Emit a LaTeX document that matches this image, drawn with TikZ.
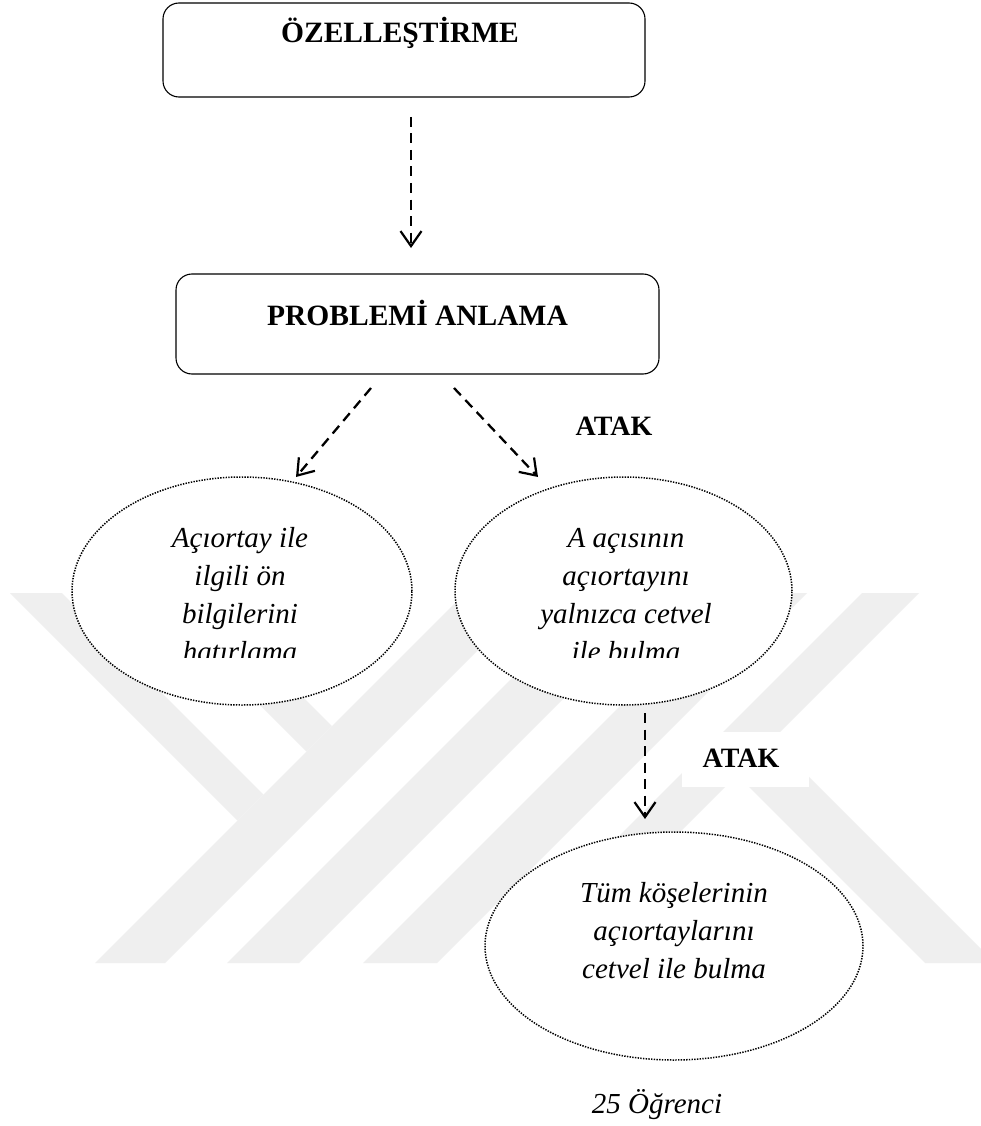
\documentclass[tikz,border=0pt]{standalone}
\usepackage{fontspec}
\setmainfont{Liberation Serif}
\usetikzlibrary{arrows.meta,shapes.geometric}
\definecolor{markgray}{RGB}{239,239,239}
\tikzset{
  headbox/.style={draw=black, line width=1.1pt, rounded corners=16pt, fill=white, inner sep=0pt},
  headtext/.style={anchor=base, inner sep=0pt, font=\fontsize{29.5}{34}\selectfont\bfseries},
  atak/.style={anchor=base, inner sep=0pt, font=\fontsize{28}{32}\selectfont\bfseries},
  bubble/.style={ellipse, draw=black, fill=white, inner sep=0pt, line width=1.5pt, dash pattern=on 1.4pt off 1.3pt},
  itext/.style={anchor=base, inner sep=0pt, font=\fontsize{29}{34}\selectfont\itshape},
  flow/.style={line width=2.3pt, dash pattern=on 10pt off 6.5pt, -{Straight Barb[length=15pt,width=21pt,line width=2.2pt]}},
  stripe/.style={fill=markgray, draw=none}
}
\begin{document}
\begin{tikzpicture}[x=1pt,y=-1pt]
\useasboundingbox (0,0) rectangle (981,1126);
\fill[white] (0,0) rectangle (981,1126);

% faint logo stripes in the background
\begin{scope}
\clip (0,0) rectangle (981,1126);
\fill[stripe] (10,593) -- (62,593) -- (263.5,794.5) -- (237.5,820.5) -- cycle;
\fill[stripe] (95,963) -- (165,963) -- (535,593) -- (465,593) -- cycle;
\fill[stripe] (148,593) -- (199,593) -- (332,726) -- (306.5,751.5) -- cycle;
\fill[stripe] (227,963) -- (299,963) -- (669,593) -- (597,593) -- cycle;
\fill[stripe] (363,963) -- (437,963) -- (807,593) -- (733,593) -- cycle;
\fill[stripe] (492,963) -- (549,963) -- (919,593) -- (862,593) -- cycle;
\fill[stripe] (737,775) -- (772,740) -- (995,963) -- (925,963) -- cycle;
\end{scope}

% header boxes
\node[headbox, minimum width=482pt, minimum height=94pt] (oz) at (404,50) {};
\node[headtext] (ozt) at (400,43) {ÖZELLEŞTİRME};
\node[headbox, minimum width=483pt, minimum height=100pt] (pa) at (417.5,324) {};
\node[headtext] (pat) at (417.5,325) {PROBLEMİ ANLAMA};

% ellipses
\node[bubble, minimum width=340pt, minimum height=228pt] (e1) at (242,591) {};
\node[bubble, minimum width=337pt, minimum height=228pt] (e2) at (623.5,591) {};
\node[bubble, minimum width=378pt, minimum height=228pt] (e3) at (674,946) {};

% texts of the two upper ellipses (last line cut off)
\begin{scope}
\clip (0,470) rectangle (981,657);
\node[itext] (e1a) at (240,547) {Açıortay ile};
\node[itext] (e1b) at (240,585) {ilgili ön};
\node[itext] (e1c) at (240,623) {bilgilerini};
\node[itext] (e1d) at (240,661) {hatırlama};
\node[itext] (e2a) at (626,547) {A açısının};
\node[itext] (e2b) at (626,585) {açıortayını};
\node[itext] (e2c) at (626,623) {yalnızca cetvel};
\node[itext] (e2d) at (626,661) {ile bulma};
\end{scope}

\node[itext] (e3a) at (674,902) {Tüm köşelerinin};
\node[itext] (e3b) at (674,940) {açıortaylarını};
\node[itext] (e3c) at (674,978) {cetvel ile bulma};

\node[itext] (count) at (657,1113) {25 Öğrenci};

% labels
\node[atak] (atak1) at (614,435) {ATAK};
\fill[white] (682,732) rectangle (809,787);
\node[atak] (atak2) at (741,767) {ATAK};

% connectors
\coordinate (t0) at (411,117);
\coordinate (t1) at (411,248);
\coordinate (l0) at (371,388);
\coordinate (l1) at (296,477);
\coordinate (r0) at (454,388);
\coordinate (r1) at (538,477);
\coordinate (b0) at (645,713);
\coordinate (b1) at (645,819);
\draw[flow] (t0) -- (t1);
\draw[flow] (l0) -- (l1);
\draw[flow] (r0) -- (r1);
\draw[flow] (b0) -- (b1);
\end{tikzpicture}
\end{document}
